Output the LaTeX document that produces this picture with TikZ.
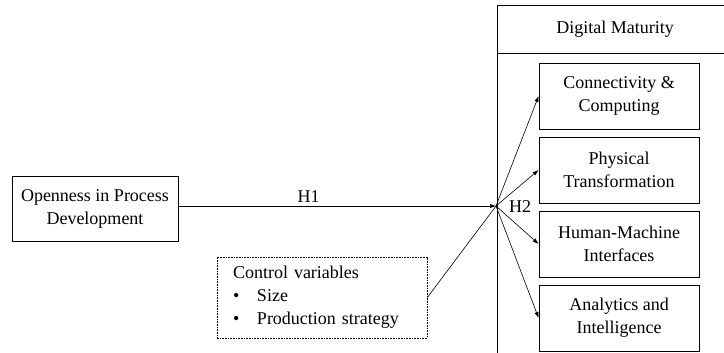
\documentclass[tikz,border=0pt]{standalone}
\usepackage{fontspec}
\setmainfont{Liberation Serif}
\usetikzlibrary{arrows.meta}
\begin{document}
\begin{tikzpicture}[x=0.75pt,y=-0.75pt,line width=0.6pt,
    font=\fontsize{13.5}{17.25}\selectfont,
    varbox/.style={draw,align=center,inner sep=0pt},
    link/.style={line width=0.45pt,-{Latex[length=4.5pt,width=3.2pt]}}]
    \useasboundingbox (0,0) rectangle (724,353);
    \draw (724,5) -- (497,5) -- (497,360);
    \draw (497,53) -- (724,53);
    \node (dmhead) at (615,29) {Digital Maturity};
    \node (open) at (95,208.5)[varbox,minimum width=124.5pt,minimum height=48.75pt]
        {Openness in Process\\Development};
    \node (ctrl) at (322,297.5)[draw,dash pattern=on 1.2pt off 0.8pt,line width=0.5pt,
        minimum width=157.5pt,minimum height=60.75pt,inner xsep=12pt,
        text width=133.5pt,align=left]
        {Control variables\\\makebox[18pt][l]{\textbullet}Size\\
         \makebox[18pt][l]{\textbullet}Production strategy};
    \coordinate (hub) at (496,206);
    \foreach \i/\txt in {1/{Connectivity \&\\Computing},2/{Physical\\Transformation},
        3/{Human-Machine\\Interfaces},4/{Analytics and\\Intelligence}}
    {
        \node (dm\i) at (619,{96+74*(\i-1)})[varbox,minimum width=120pt,minimum height=49.5pt]{\txt};
        \draw[link] (hub) -- (dm\i.west);
    }
    \draw[link] (open.east |- hub) -- node[pos=0.41,above=-1pt] {H1} (hub);
    \draw[line width=0.45pt] (ctrl.east) -- (hub);
    \node (h2) at (520,207) {H2};
\end{tikzpicture}
\end{document}
